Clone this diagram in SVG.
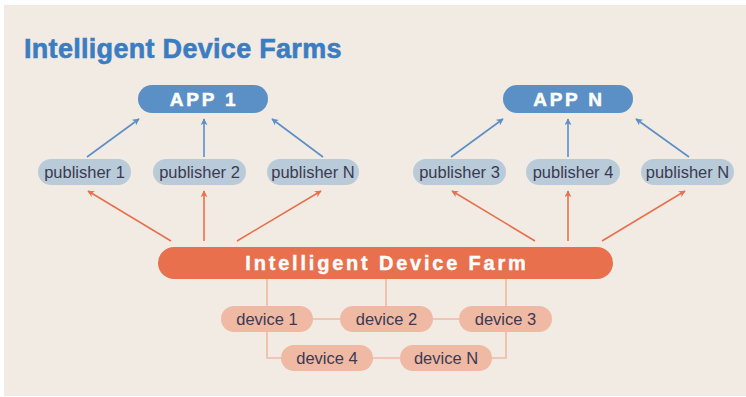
<svg xmlns="http://www.w3.org/2000/svg" width="746" height="397" viewBox="0 0 746 397">
<defs>
<style>
.app{fill:#5a90c5}
.pub{fill:#b9cbd9}
.dev{fill:#efb9a4}
.farm{fill:#e9704d}
.apptxt{font-family:"Liberation Sans",Arial,sans-serif;font-weight:bold;font-size:19px;fill:#fff;stroke:#fff;stroke-width:0.5;text-anchor:middle;letter-spacing:2.8px}
.farmtxt{font-family:"Liberation Sans",Arial,sans-serif;font-weight:bold;font-size:20px;fill:#fff;stroke:#fff;stroke-width:0.4;text-anchor:middle;letter-spacing:2.8px}
.lbl{font-family:"Liberation Sans",Arial,sans-serif;font-size:16.5px;fill:#3b3a52;text-anchor:middle}
.blue{stroke:#5b8fc6;stroke-width:1.6;fill:none;marker-end:url(#ab)}
.org{stroke:#e9704d;stroke-width:1.6;fill:none;marker-end:url(#ao)}
.lnk{stroke:#efb9a4;stroke-width:1.6;fill:none}
</style>
<marker id="ab" viewBox="0 0 10 10" refX="9" refY="5" markerWidth="7" markerHeight="7" markerUnits="userSpaceOnUse" orient="auto"><path d="M0,0 L10,5 L0,10 L3,5 Z" fill="#5b8fc6"/></marker>
<marker id="ao" viewBox="0 0 10 10" refX="9" refY="5" markerWidth="7" markerHeight="7" markerUnits="userSpaceOnUse" orient="auto"><path d="M0,0 L10,5 L0,10 L3,5 Z" fill="#e9704d"/></marker>
</defs>
<rect x="0" y="0" width="746" height="397" fill="#ffffff"/>
<rect x="4" y="5" width="742" height="391" fill="#f2ebe4"/>
<text x="24" y="58" font-family="Liberation Sans,Arial,sans-serif" font-weight="bold" font-size="27" letter-spacing="0.3" fill="#3b7dc0" stroke="#3b7dc0" stroke-width="0.6">Intelligent Device Farms</text>
<g id="connectors">
<line class="blue" x1="87" y1="157" x2="139" y2="119"/>
<line class="blue" x1="204" y1="157" x2="204" y2="119"/>
<line class="blue" x1="323" y1="157" x2="272" y2="119"/>
<line class="blue" x1="451" y1="157" x2="503" y2="119"/>
<line class="blue" x1="568" y1="157" x2="568" y2="119"/>
<line class="blue" x1="689" y1="157" x2="636" y2="119"/>
<line class="org" x1="171" y1="241" x2="88" y2="191"/>
<line class="org" x1="204" y1="241" x2="204" y2="191"/>
<line class="org" x1="237" y1="241" x2="321" y2="191"/>
<line class="org" x1="535" y1="241" x2="452" y2="191"/>
<line class="org" x1="568" y1="241" x2="568" y2="191"/>
<line class="org" x1="602" y1="241" x2="685" y2="191"/>
<path class="lnk" d="M267,279 V358 H281"/>
<path class="lnk" d="M386,279 V306"/>
<path class="lnk" d="M506,279 V358 H492"/>
<path class="lnk" d="M313,319 H340 M433,319 H459 M373,358 H400"/>
</g>
<g id="app1"><rect class="app" x="138" y="85" width="130" height="28" rx="14"/><text class="apptxt" x="204" y="106">APP 1</text></g>
<g id="appN"><rect class="app" x="503" y="85" width="130" height="28" rx="14"/><text class="apptxt" x="569" y="106">APP N</text></g>
<g id="pub1"><rect class="pub" x="38" y="159" width="93" height="26" rx="13"/><text class="lbl" x="84.5" y="178">publisher 1</text></g>
<g id="pub2"><rect class="pub" x="153" y="159" width="93" height="26" rx="13"/><text class="lbl" x="199.5" y="178">publisher 2</text></g>
<g id="pubN1"><rect class="pub" x="267" y="159" width="92" height="26" rx="13"/><text class="lbl" x="313" y="178">publisher N</text></g>
<g id="pub3"><rect class="pub" x="413" y="159" width="93" height="26" rx="13"/><text class="lbl" x="459.5" y="178">publisher 3</text></g>
<g id="pub4"><rect class="pub" x="526" y="159" width="94" height="26" rx="13"/><text class="lbl" x="573" y="178">publisher 4</text></g>
<g id="pubN2"><rect class="pub" x="641" y="159" width="93" height="26" rx="13"/><text class="lbl" x="687.5" y="178">publisher N</text></g>
<g id="farm"><rect class="farm" x="158" y="247" width="455" height="32" rx="16"/><text class="farmtxt" x="387" y="270">Intelligent Device Farm</text></g>
<g id="dev1"><rect class="dev" x="221" y="306" width="92" height="26" rx="13"/><text class="lbl" x="267" y="324.5">device 1</text></g>
<g id="dev2"><rect class="dev" x="340" y="306" width="93" height="26" rx="13"/><text class="lbl" x="386.5" y="324.5">device 2</text></g>
<g id="dev3"><rect class="dev" x="459" y="306" width="93" height="26" rx="13"/><text class="lbl" x="505.5" y="324.5">device 3</text></g>
<g id="dev4"><rect class="dev" x="281" y="345" width="92" height="26" rx="13"/><text class="lbl" x="327" y="363.5">device 4</text></g>
<g id="devN"><rect class="dev" x="400" y="345" width="92" height="26" rx="13"/><text class="lbl" x="446" y="363.5">device N</text></g>
</svg>
